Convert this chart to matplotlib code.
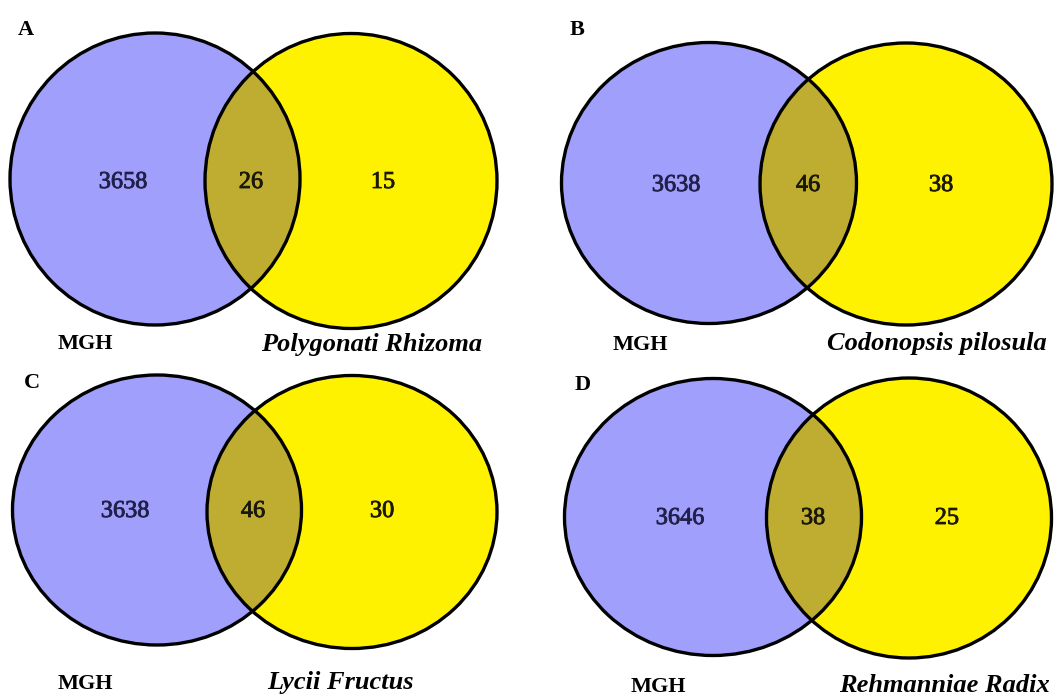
import matplotlib
matplotlib.use('Agg')
import matplotlib.pyplot as plt
import matplotlib.patheffects as pe
from matplotlib.patches import Ellipse

# data: counts for each Venn diagram
panel_tags = ['A', 'B', 'C', 'D']
herbs = ['Polygonati Rhizoma', 'Codonopsis pilosula', 'Lycii Fructus', 'Rehmanniae Radix']
mgh_only = [3658, 3638, 3638, 3646]
shared = [26, 46, 46, 38]
herb_only = [15, 38, 30, 25]

# layout (pixel coords): left ellipse (cx, cy, w, h), right ellipse, text positions
left_ell = [(155, 179, 290, 292), (709, 183, 295, 281), (157, 510, 289, 270), (713, 517, 297, 277)]
right_ell = [(351, 181, 292, 295), (906, 184, 292, 282), (352, 512, 290, 273), (909, 518, 285, 280)]
num_x = [(123, 251, 383), (676, 808, 941), (125, 253, 382), (680, 813, 947)]
num_base = [188, 191, 517, 524]      # baseline of the count numbers
tag_pos = [(26, 35), (577, 35), (32, 388), (583, 390)]
mgh_pos = [(85, 349), (640, 350), (85, 689), (658, 692)]
herb_pos = [(372, 351), (937, 350), (340, 689), (944, 692)]

blue = '#a0a0fc'
yellow = '#fff200'
olive = '#bfad32'

fig = plt.figure(figsize=(10.6, 6.95), dpi=100)
ax = fig.add_axes([0, 0, 1, 1])
ax.set_xlim(0, 1060)
ax.set_ylim(695, 0)
ax.axis('off')

serif = ['Liberation Serif', 'DejaVu Serif']


def count_text(x, y, val, col):
    # numbers in the reference are a bit heavier than regular weight
    ax.text(x, y, str(val), ha='center', va='baseline', fontsize=17.5, family=serif,
            color=col, zorder=4,
            path_effects=[pe.withStroke(linewidth=0.6, foreground=col)])


for i in range(4):
    lx, ly, lw, lh = left_ell[i]
    rx, ry, rw, rh = right_ell[i]
    ax.add_patch(Ellipse((lx, ly), lw, lh, facecolor=blue, edgecolor='none', zorder=1))
    ax.add_patch(Ellipse((rx, ry), rw, rh, facecolor=yellow, edgecolor='none', zorder=1))
    # overlap region: left ellipse clipped by the right one
    clip = Ellipse((rx, ry), rw, rh, transform=ax.transData, facecolor='none', edgecolor='none')
    ax.add_patch(clip)
    e3 = Ellipse((lx, ly), lw, lh, facecolor=olive, edgecolor='none', zorder=2)
    ax.add_patch(e3)
    e3.set_clip_path(clip)
    # outlines
    ax.add_patch(Ellipse((lx, ly), lw, lh, facecolor='none', edgecolor='black', lw=2.4, zorder=3))
    ax.add_patch(Ellipse((rx, ry), rw, rh, facecolor='none', edgecolor='black', lw=2.4, zorder=3))

    xs = num_x[i]
    count_text(xs[0], num_base[i], mgh_only[i], '#20204a')
    count_text(xs[1], num_base[i], shared[i], '#1a1808')
    count_text(xs[2], num_base[i], herb_only[i], '#1a1800')

    ax.text(tag_pos[i][0], tag_pos[i][1], panel_tags[i], ha='center', va='baseline',
            fontsize=16, fontweight='bold', family=serif)
    ax.text(mgh_pos[i][0], mgh_pos[i][1], 'MGH', ha='center', va='baseline',
            fontsize=16, fontweight='bold', family=serif)
    ax.text(herb_pos[i][0], herb_pos[i][1], herbs[i], ha='center', va='baseline',
            fontsize=19, fontweight='bold', fontstyle='italic', family=serif)

fig.savefig('out.png', dpi=100)
